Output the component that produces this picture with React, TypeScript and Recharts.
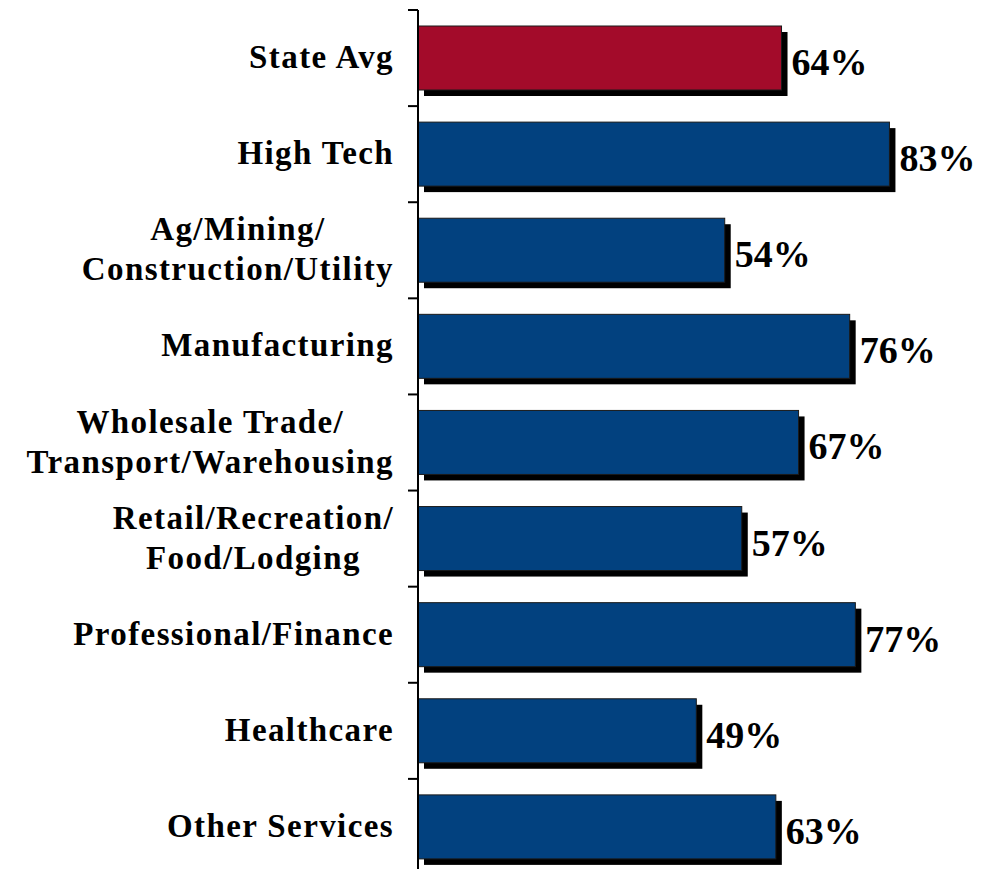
import { Bar, BarChart, Cell, LabelList, XAxis, YAxis } from 'recharts';

const categories = [
  'State Avg',
  'High Tech',
  'Ag/Mining/\nConstruction/Utility',
  'Manufacturing',
  'Wholesale Trade/\nTransport/Warehousing',
  'Retail/Recreation/\nFood/Lodging',
  'Professional/Finance',
  'Healthcare',
  'Other Services',
];
const values = [64, 83, 54, 76, 67, 57, 77, 49, 63];
const highlight = ['State Avg'];

const RED = '#A30B2A';
const BLUE = '#02417F';
const FONT = '"Liberation Serif", "Times New Roman", serif';
const LABEL_SIZE = 33;
const LABEL_SPACING = 1.4;

const data = categories.map((name, i) => ({ name, value: values[i] }));

const CHART_H = 880;
const MARGIN = { top: 10, right: 3, bottom: 5, left: 0 };
const AXIS_W = 418;
const band = (CHART_H - MARGIN.top - MARGIN.bottom) / categories.length;

let ctx: CanvasRenderingContext2D | null = null;
const measure = (text: string) => {
  if (!ctx) {
    ctx = document.createElement('canvas').getContext('2d');
  }
  if (!ctx) return text.length * LABEL_SIZE * 0.5;
  ctx.font = `bold ${LABEL_SIZE}px ${FONT}`;
  return ctx.measureText(text).width + text.length * LABEL_SPACING;
};

const CategoryTick = (props: any) => {
  const { y, payload, index } = props;
  const axisX = MARGIN.left + AXIS_W;
  const lines = String(payload.value).split('\n');
  const right = axisX - 24;
  const isLast = index === categories.length - 1;
  const textStyle = {
    fontFamily: FONT,
    fontWeight: 700,
    fontSize: LABEL_SIZE,
    letterSpacing: LABEL_SPACING,
    fill: '#000',
  };
  let content;
  if (lines.length === 1) {
    content = (
      <text x={right} y={y + 10} textAnchor="end" style={textStyle}>
        {lines[0]}
      </text>
    );
  } else {
    const maxW = Math.max(...lines.map(measure));
    const cx = right - maxW / 2;
    content = lines.map((line, i) => (
      <text key={i} x={cx} y={y - 10 + i * 40} textAnchor="middle" style={textStyle}>
        {line}
      </text>
    ));
  }
  return (
    <g>
      <line x1={axisX - 10} x2={axisX} y1={y - band / 2} y2={y - band / 2} stroke="#000" strokeWidth={2} />
      {isLast && (
        <line x1={axisX - 10} x2={axisX} y1={y + band / 2} y2={y + band / 2} stroke="#000" strokeWidth={2} />
      )}
      {content}
    </g>
  );
};

const ShadowBar = (props: any) => {
  const { x, y, width, height, fill } = props;
  return (
    <g>
      <rect x={x + 6} y={y + 6} width={width} height={height} fill="#000" />
      <rect x={x} y={y} width={width} height={height} fill={fill} stroke="#1a1a1a" strokeWidth={1} />
    </g>
  );
};

const ValueLabel = (props: any) => {
  const { x, y, width, height, value } = props;
  return (
    <text
      x={x + width + 10}
      y={y + height / 2 + 17}
      style={{ fontFamily: FONT, fontWeight: 700, fontSize: 38, fill: '#000' }}
    >
      {`${value}%`}
    </text>
  );
};

export default function App() {
  return (
    <div
      style={{
        position: 'fixed',
        left: 0,
        top: 0,
        width: 989,
        height: 869,
        overflow: 'hidden',
        background: '#fff',
      }}
    >
      <BarChart width={989} height={CHART_H} data={data} layout="vertical" margin={MARGIN} barSize={64}>
        <XAxis type="number" domain={[0, 100]} hide />
        <YAxis
          type="category"
          dataKey="name"
          width={AXIS_W}
          axisLine={{ stroke: '#000', strokeWidth: 2 }}
          tickLine={false}
          tick={(p: any) => <CategoryTick {...p} />}
          interval={0}
        />
        <Bar dataKey="value" isAnimationActive={false} shape={(p: any) => <ShadowBar {...p} />}>
          {data.map((d) => (
            <Cell key={d.name} fill={highlight.includes(d.name) ? RED : BLUE} />
          ))}
          <LabelList dataKey="value" content={(p: any) => <ValueLabel {...p} />} />
        </Bar>
      </BarChart>
    </div>
  );
}
